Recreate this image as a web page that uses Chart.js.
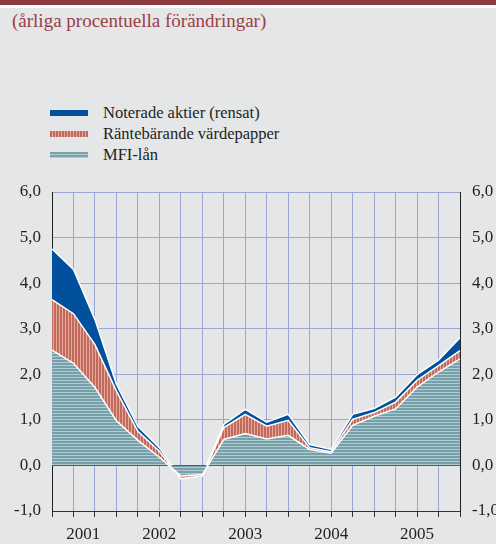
<!DOCTYPE html>
<html>
<head>
<meta charset="utf-8">
<script src="https://cdn.jsdelivr.net/npm/chart.js@4/dist/chart.umd.min.js"></script>
<style>
  html, body { margin: 0; padding: 0; background: #e5e6e8; }
  #wrap { position: relative; width: 496px; height: 544px; overflow: hidden; font-family: "Liberation Serif", serif; }
  #band { position: absolute; left: 0; top: 0; width: 496px; height: 5px; background: #8c3a3e; }
  #rule { position: absolute; left: 0; top: 5px; width: 496px; height: 3px; background: #fff; }
  #sub { position: absolute; left: 12px; top: 10px; font-size: 19px; line-height: 22px; color: #9a3e46; white-space: nowrap; }
  .leg { position: absolute; left: 50px; height: 20px; font-size: 16.5px; line-height: 20px; color: #231f20; white-space: nowrap; }
  .leg span.sw { position: absolute; left: 0; top: 7px; width: 38px; height: 6px; }
  .leg span.tx { position: absolute; left: 53px; top: 0; }
  #chart { position: absolute; left: 0; top: 0; }
</style>
</head>
<body>
<div id="wrap">
  <div id="band"></div>
  <div id="rule"></div>
  <div id="sub">(årliga procentuella förändringar)</div>
  <div class="leg" style="top:103px"><span class="sw" style="background:#00509e"></span><span class="tx">Noterade aktier (rensat)</span></div>
  <div class="leg" style="top:124px"><span class="sw" style="background:repeating-linear-gradient(90deg,#c06b5d 0 2px,#e6a899 2px 3px)"></span><span class="tx">Räntebärande värdepapper</span></div>
  <div class="leg" style="top:145px"><span class="sw" style="background:repeating-linear-gradient(180deg,#76a0aa 0 2px,#b2cbd0 2px 3px)"></span><span class="tx">MFI-lån</span></div>
  <canvas id="chart" width="496" height="544"></canvas>
</div>
<script>
// kvartal 2001-2005
const quarters = ['2001 K1','2001 K2','2001 K3','2001 K4','2002 K1','2002 K2','2002 K3','2002 K4',
                  '2003 K1','2003 K2','2003 K3','2003 K4','2004 K1','2004 K2','2004 K3','2004 K4',
                  '2005 K1','2005 K2','2005 K3','2005 K4'];
const years = ['2001','2002','2003','2004','2005'];
const yearPos = [1.46, 5, 9, 13, 17];

const mfiLan       = [2.53, 2.24, 1.71, 0.98, 0.55, 0.18, -0.23, -0.20, 0.57, 0.70, 0.58, 0.66, 0.35, 0.27, 0.88, 1.08, 1.24, 1.72, 2.05, 2.34];
const rantebarande = [1.11, 1.09, 0.94, 0.65, 0.20, 0.13, -0.06, -0.03, 0.26, 0.42, 0.28, 0.33, 0.04, 0.03, 0.13, 0.08, 0.15, 0.15, 0.14, 0.18];
const aktier       = [1.11, 0.97, 0.55, 0.15, 0.11, 0.08, 0.00, 0.00, 0.07, 0.11, 0.09, 0.13, 0.07, 0.05, 0.11, 0.09, 0.11, 0.12, 0.12, 0.28];

(function(){
    const gridBlue = '#9ba6d7';
    const ink = '#231f20';
    const tickFont = { family: 'Liberation Serif', size: 17 };

    function stripes(colors, vertical) {
        const c = document.createElement('canvas');
        c.width = vertical ? colors.length : 1;
        c.height = vertical ? 1 : colors.length;
        const g = c.getContext('2d');
        colors.forEach((col, i) => {
            g.fillStyle = col;
            if (vertical) g.fillRect(i, 0, 1, 1); else g.fillRect(0, i, 1, 1);
        });
        return g.createPattern(c, 'repeat');
    }

    const ctx = document.getElementById('chart').getContext('2d');
    const tealPat = stripes(['#76a0aa', '#76a0aa', '#b2cbd0'], false);
    const redPat = stripes(['#c06b5d', '#c06b5d', '#e6a899'], true);

    const fmt = v => v.toFixed(1).replace('.', ',');

    new Chart(ctx, {
        type: 'line',
        data: {
            labels: quarters,
            datasets: [
                { label: 'MFI-lån', data: mfiLan, backgroundColor: tealPat, borderColor: '#fff', borderWidth: 1.5, fill: 'origin', pointRadius: 0, tension: 0 },
                { label: 'Räntebärande värdepapper', data: rantebarande, backgroundColor: redPat, borderColor: '#fff', borderWidth: 1.5, fill: '-1', pointRadius: 0, tension: 0 },
                { label: 'Noterade aktier (rensat)', data: aktier, backgroundColor: '#00509e', borderColor: '#fff', borderWidth: 1.5, fill: '-1', pointRadius: 0, tension: 0 }
            ]
        },
        options: {
            responsive: false,
            animation: false,
            layout: { padding: { top: 192, left: 0, right: 0, bottom: 0 } },
            plugins: { legend: { display: false }, tooltip: { enabled: false } },
            scales: {
                x: {
                    type: 'category', offset: false, position: 'bottom', weight: 0,
                    grid: {
                        color: c => (c.index === 0 || c.index === quarters.length - 1) ? 'rgba(0,0,0,0)' : gridBlue,
                        tickColor: '#333', tickLength: 6
                    },
                    border: { color: '#333' },
                    ticks: { display: false },
                    afterFit: s => { s.height = 8; }
                },
                xYear: {
                    type: 'linear', position: 'bottom', weight: 1, min: 0, max: quarters.length - 1,
                    grid: { display: false, drawTicks: false },
                    border: { display: false },
                    afterBuildTicks: s => { s.ticks = yearPos.map(v => ({ value: v })); },
                    ticks: { autoSkip: false, maxRotation: 0, padding: 5, font: tickFont, color: ink,
                             callback: (v, i) => years[i] },
                    afterFit: s => { s.height = 25; }
                },
                y: {
                    stacked: true, min: -1, max: 6, position: 'left',
                    grid: { color: c => c.tick.value === 0 ? '#222' : gridBlue, drawTicks: false },
                    border: { color: '#222' },
                    ticks: { stepSize: 1, padding: 11, font: tickFont, color: ink, callback: fmt },
                    afterFit: s => { s.width = 52; }
                },
                y2: {
                    min: -1, max: 6, position: 'right',
                    grid: { display: false, drawTicks: false },
                    border: { color: '#222' },
                    ticks: { stepSize: 1, padding: 12, font: tickFont, color: ink, callback: fmt },
                    afterFit: s => { s.width = 36; }
                }
            }
        }
    });
})();
</script>
</body>
</html>
